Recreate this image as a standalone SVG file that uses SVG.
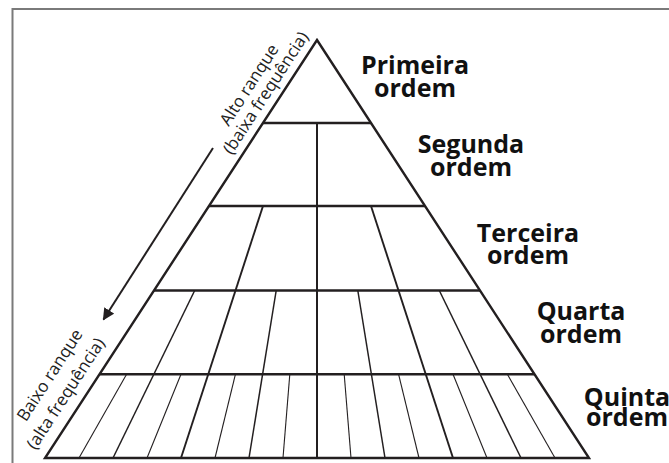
<svg xmlns="http://www.w3.org/2000/svg" width="669" height="463" viewBox="0 0 669 463">
<style>
.frame{fill:none;stroke:#7a7a7a;stroke-width:2}
.ln{stroke:#231f20;fill:none;stroke-linecap:butt}
.out{stroke-width:2.4;stroke-linejoin:miter}
.lvl{stroke-width:2.4}
.d2{stroke-width:2}
.d3{stroke-width:1.9}
.d4{stroke-width:1.5}
.d5{stroke-width:1.1}
.lab{font-family:"Open Sans","Liberation Sans",sans-serif;font-weight:bold;font-size:25px;fill:#111;text-anchor:middle}
.rot{font-family:"Open Sans","Liberation Sans",sans-serif;font-size:17px;fill:#222;text-anchor:middle}
</style>
<defs>
<marker id="ah" viewBox="0 0 10 10" refX="9" refY="5" markerWidth="6" markerHeight="6" markerUnits="strokeWidth" orient="auto">
<path d="M0,0 L10,5 L0,10 Z" fill="#231f20"/>
</marker>
</defs>
<rect class="frame" x="12.5" y="9" width="700" height="500"/>
<g id="pyramid">
<polygon class="ln out" points="317,40 589,458 45,458"/>
<g id="levels">
<line class="ln lvl" x1="263" y1="123" x2="371" y2="123"/>
<line class="ln lvl" x1="209" y1="206" x2="425" y2="206"/>
<line class="ln lvl" x1="154" y1="290.5" x2="480" y2="290.5"/>
<line class="ln lvl" x1="99.5" y1="374.3" x2="534.5" y2="374.3"/>
</g>
<g id="dividers">
<line class="ln d2" x1="317" y1="123" x2="317" y2="458"/>
<line class="ln d3" x1="263" y1="206" x2="181" y2="458"/>
<line class="ln d3" x1="371" y1="206" x2="453" y2="458"/>
<line class="ln d4" x1="194.7" y1="290.5" x2="113" y2="458"/>
<line class="ln d4" x1="276.2" y1="290.5" x2="249" y2="458"/>
<line class="ln d4" x1="357.8" y1="290.5" x2="385" y2="458"/>
<line class="ln d4" x1="439.3" y1="290.5" x2="521" y2="458"/>
<line class="ln d5" x1="126.6" y1="374.3" x2="79" y2="458"/>
<line class="ln d5" x1="181" y1="374.3" x2="147" y2="458"/>
<line class="ln d5" x1="235.4" y1="374.3" x2="215" y2="458"/>
<line class="ln d5" x1="289.8" y1="374.3" x2="283" y2="458"/>
<line class="ln d5" x1="344.2" y1="374.3" x2="351" y2="458"/>
<line class="ln d5" x1="398.6" y1="374.3" x2="419" y2="458"/>
<line class="ln d5" x1="453" y1="374.3" x2="487" y2="458"/>
<line class="ln d5" x1="507.4" y1="374.3" x2="555" y2="458"/>
</g>
</g>
<g id="connectors">
<line class="ln" stroke-width="2" x1="213" y1="148" x2="103.5" y2="319.5" marker-end="url(#ah)"/>
</g>
<g id="rank-labels">
<text class="rot" transform="translate(254,88) rotate(-57)">Alto ranque</text>
<text class="rot" transform="translate(270.5,96) rotate(-57)">(baixa frequência)</text>
<text class="rot" transform="translate(54.6,378.3) rotate(-57)">Baixo ranque</text>
<text class="rot" transform="translate(70.5,396.7) rotate(-57)">(alta frequência)</text>
</g>
<g id="order1"><text class="lab" x="415" y="74">Primeira</text><text class="lab" x="415" y="97">ordem</text></g>
<g id="order2"><text class="lab" x="471" y="153">Segunda</text><text class="lab" x="471" y="176">ordem</text></g>
<g id="order3"><text class="lab" x="528" y="242">Terceira</text><text class="lab" x="528" y="264">ordem</text></g>
<g id="order4"><text class="lab" x="581" y="320">Quarta</text><text class="lab" x="581" y="343">ordem</text></g>
<g id="order5"><text class="lab" x="627" y="406">Quinta</text><text class="lab" x="627" y="426">ordem</text></g>
</svg>
